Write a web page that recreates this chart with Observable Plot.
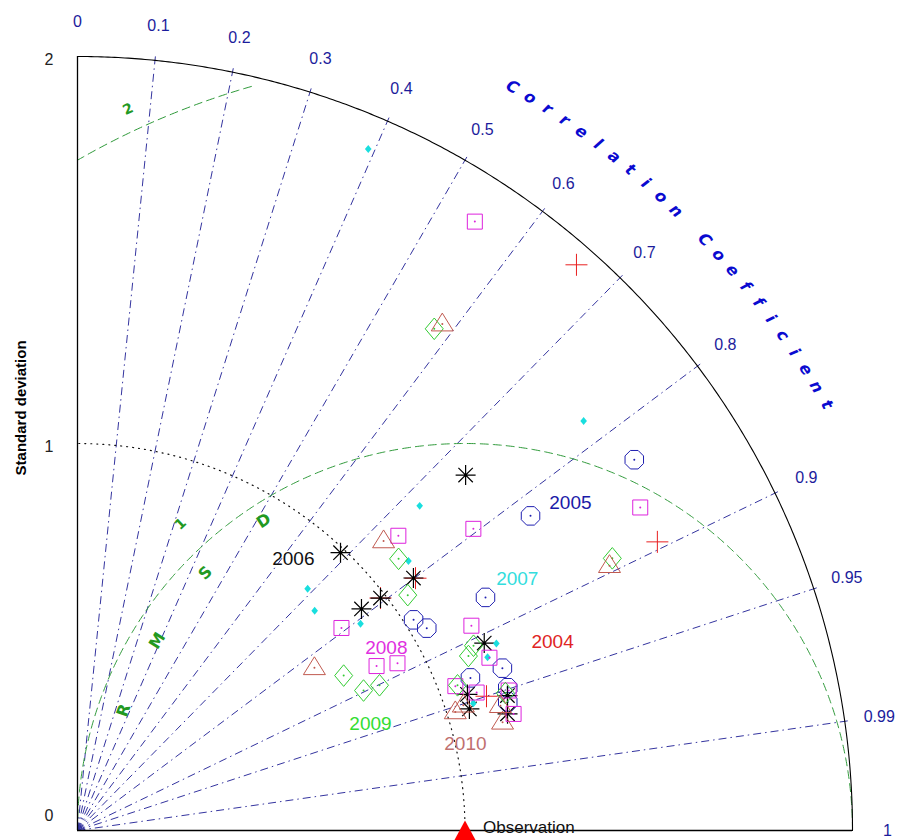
<!DOCTYPE html>
<html>
<head>
<meta charset="utf-8">
<script src="https://cdn.jsdelivr.net/npm/d3@7"></script>
<script src="https://cdn.jsdelivr.net/npm/@observablehq/plot@0.6"></script>
<style>
  html, body { margin: 0; padding: 0; background: #fff; }
  svg { display: block; }
</style>
</head>
<body>
<script>
// ---------- data (standard deviation, correlation) ----------
const years = ["2004", "2005", "2006", "2007", "2008", "2009", "2010"];

const s2004 = [1.948, 1.672, 1.089, 0.986, 1.111];
const r2004 = [0.661, 0.895, 0.801, 0.793, 0.950];

const s2005 = [1.727, 1.424, 1.213, 1.024, 1.042, 1.174, 1.088, 1.170, 1.159];
const r2005 = [0.832, 0.821, 0.868, 0.847, 0.865, 0.934, 0.932, 0.949, 0.958];

const s2006 = [1.359, 0.988, 1.085, 0.986, 0.930, 1.156, 1.066, 1.059, 1.163, 1.150];
const r2006 = [0.737, 0.687, 0.799, 0.793, 0.788, 0.908, 0.944, 0.955, 0.954, 0.965];

const s2007 = [1.914, 1.681, 1.218, 1.102, 0.862, 0.835, 0.905, 1.184, 1.149, 1.073];
const r2007 = [0.392, 0.777, 0.725, 0.775, 0.689, 0.733, 0.807, 0.913, 0.921, 0.952];

const s2008 = [1.878, 1.675, 1.285, 1.125, 0.859, 0.881, 0.932, 1.146, 1.153, 1.044, 1.170, 1.165, 1.090];
const r2008 = [0.546, 0.867, 0.795, 0.736, 0.793, 0.876, 0.886, 0.887, 0.922, 0.934, 0.951, 0.966, 0.945];

const s2009 = [1.590, 1.549, 1.086, 1.047, 0.795, 0.822, 0.865, 1.105, 1.050, 1.160, 1.128];
const r2009 = [0.579, 0.891, 0.763, 0.814, 0.864, 0.898, 0.901, 0.913, 0.934, 0.952, 0.906];

const s2010 = [1.612, 1.534, 1.088, 0.742, 1.022, 1.047, 1.132, 1.138];
const r2010 = [0.584, 0.895, 0.726, 0.824, 0.954, 0.951, 0.969, 0.959];

// year annotation positions (x, y in standard-deviation units)
const labelX = [1.226, 1.272, 0.557, 1.135, 0.797, 0.756, 1.001];
const labelY = [0.488, 0.846, 0.702, 0.650, 0.472, 0.276, 0.2245];

// observation reference
const obsStd = 1.0;

// axis ticks
const corrTicks = [0, 0.1, 0.2, 0.3, 0.4, 0.5, 0.6, 0.7, 0.8, 0.9, 0.95, 0.99, 1];
const corrLines = [0.1, 0.2, 0.3, 0.4, 0.5, 0.6, 0.7, 0.8, 0.9, 0.95, 0.99];
const stdTicks = [0, 1, 2];
const rmsdArcs = [1, 2];
const rmsdTitle = ["R", "M", "S", "D"];
const corrTitle = "Correlation Coefficient";

// ---------- styles ----------
const colors = {
  "2004": "#e82020", "2005": "#1f1fb0", "2006": "#000000", "2007": "#19dede",
  "2008": "#dd22dd", "2009": "#33cc33", "2010": "#c05a50"
};
const labelColors = {
  "2004": "#e02424", "2005": "#1a1aa8", "2006": "#111111", "2007": "#33dddd",
  "2008": "#e030e0", "2009": "#33dd33", "2010": "#c07070"
};

function sym(f) { return { draw(ctx, size) { f(ctx, Math.sqrt(size / Math.PI)); } }; }
const symPlus = sym((c, r) => { c.moveTo(-r, 0); c.lineTo(r, 0); c.moveTo(0, -r); c.lineTo(0, r); });
const symOct = sym((c, r) => {
  for (let k = 0; k < 8; ++k) {
    const a = (k + 0.5) * Math.PI / 4;
    if (k === 0) c.moveTo(r * Math.cos(a), r * Math.sin(a)); else c.lineTo(r * Math.cos(a), r * Math.sin(a));
  }
  c.closePath();
});
const symAst = sym((c, r) => {
  const d = r * 0.72;
  c.moveTo(-r, 0); c.lineTo(r, 0); c.moveTo(0, -r); c.lineTo(0, r);
  c.moveTo(-d, -d); c.lineTo(d, d); c.moveTo(-d, d); c.lineTo(d, -d);
});
const symDiam = sym((c, r) => { c.moveTo(0, -1.2 * r); c.lineTo(r, 0); c.lineTo(0, 1.2 * r); c.lineTo(-r, 0); c.closePath(); });
const symSq = sym((c, r) => { c.rect(-r, -r, 2 * r, 2 * r); });
const symTri = sym((c, r) => { c.moveTo(0, -r); c.lineTo(r, 0.62 * r); c.lineTo(-r, 0.62 * r); c.closePath(); });
const symObs = sym((c, r) => { c.moveTo(0, -0.9 * r); c.lineTo(r, 0.95 * r); c.lineTo(-r, 0.95 * r); c.closePath(); });

const seriesStd = {"2004": s2004, "2005": s2005, "2006": s2006, "2007": s2007, "2008": s2008, "2009": s2009, "2010": s2010};
const seriesR = {"2004": r2004, "2005": r2005, "2006": r2006, "2007": r2007, "2008": r2008, "2009": r2009, "2010": r2010};

const points = years.flatMap(yr => seriesStd[yr].map((s, i) => {
  const r = seriesR[yr][i];
  return {year: yr, std: s, corr: r, x: s * r, y: s * Math.sqrt(1 - r * r)};
}));
const ofYear = yr => points.filter(d => d.year === yr);

// ---------- geometry helpers ----------
const deg = Math.PI / 180;
const arc = (cx, rad, a0, a1) => d3.range(a0, a1 + 0.001, 0.25).map(a => ({x: cx + rad * Math.cos(a * deg), y: rad * Math.sin(a * deg), rr: rad}));
const outerArc = arc(0, 2, 0, 90);
const obsArc = arc(0, obsStd, 0, 90);
// RMSD arcs centred on the observation, kept inside the quarter disc of radius 2
const rmsdSpan = {1: [0, 180], 2: [106, 120]};
const rmsdLines = rmsdArcs.flatMap(rr => arc(obsStd, rr, rmsdSpan[rr][0], rmsdSpan[rr][1]).filter(p => p.x >= -0.001));

const corrLabels = corrTicks.map(r => {
  const a = Math.acos(r);
  return {x: 2.09 * Math.cos(a), y: 2.09 * Math.sin(a), t: String(r)};
});

// curved title letters
const a0 = 59.7, a1 = 29.65;
const titleLetters = corrTitle.split("").map((ch, i, arr) => {
  const a = a0 + (a1 - a0) * i / (arr.length - 1);
  return {x: 2.225 * Math.cos(a * deg), y: 2.225 * Math.sin(a * deg), ch, rot: 90 - a};
});

// RMSD letters along the arc centred on observation
const rmsdAngles = [160.6, 148.3, 135.2, 123.0];
const rmsdRad = [0.934, 0.933, 0.944, 0.954];
const rmsdLetters = rmsdTitle.map((ch, i) => ({
  x: obsStd + rmsdRad[i] * Math.cos(rmsdAngles[i] * deg),
  y: rmsdRad[i] * Math.sin(rmsdAngles[i] * deg),
  ch, rot: 90 - rmsdAngles[i]
}));
const rmsdNumAngles = [132.8, 115.0];
const rmsdNumRad = [1.08, 2.057];
const rmsdNums = rmsdArcs.map((v, i) => ({
  x: obsStd + rmsdNumRad[i] * Math.cos(rmsdNumAngles[i] * deg),
  y: rmsdNumRad[i] * Math.sin(rmsdNumAngles[i] * deg),
  t: String(v), rot: 90 - rmsdNumAngles[i]
}));

const yearLabels = years.map((yr, i) => ({x: labelX[i], y: labelY[i], t: yr}));

const navy = "#34349f";
const font = "Liberation Sans, Arial, sans-serif";

const markerStyles = {
  "2004": {symbol: symPlus, r: 11},
  "2005": {symbol: symOct, r: 10},
  "2006": {symbol: symAst, r: 10},
  "2008": {symbol: symSq, r: 7.5},
  "2009": {symbol: symDiam, r: 9},
  "2010": {symbol: symTri, r: 11}
};

const marks = [
  // correlation rays
  Plot.link(corrLines, {x1: () => 0, y1: () => 0, x2: r => 2.015 * r, y2: r => 2.015 * Math.sqrt(1 - r * r),
    stroke: navy, strokeWidth: 1, strokeDasharray: "8,4,1.5,4"}),
  // RMSD arcs
  Plot.line(rmsdLines, {x: "x", y: "y", z: "rr", stroke: "#2f9a3a", strokeWidth: 1, strokeDasharray: "8,5"}),
  // std = observation arc
  Plot.line(obsArc, {x: "x", y: "y", stroke: "#111", strokeWidth: 1.2, strokeDasharray: "1,5"}),
  // outer arc
  Plot.line(outerArc, {x: "x", y: "y", stroke: "#000", strokeWidth: 1.1}),
  // axes
  Plot.ruleX([0], {y1: 0, y2: 2, stroke: "#000", strokeWidth: 1.3}),
  Plot.ruleY([0], {x1: 0, x2: 2, stroke: "#000", strokeWidth: 1.3}),
  // y tick labels
  Plot.text(stdTicks.filter(v => v > 0), {x: () => -0.062, y: d => d, text: d => String(d), textAnchor: "end", dy: 3,
    fill: "#222", fontSize: 16, fontFamily: font}),
  Plot.text(stdTicks.filter(v => v === 0), {x: () => -0.062, y: d => d, text: d => String(d), textAnchor: "end", dy: -15,
    fill: "#222", fontSize: 16, fontFamily: font}),
  // correlation tick labels
  Plot.text(corrLabels, {x: "x", y: "y", text: "t", fill: "#1c1c9c", fontSize: 16, fontFamily: font}),
  // curved title
  Plot.text(titleLetters, {x: "x", y: "y", text: "ch", rotate: "rot", fill: "#0a0ad0", fontSize: 16,
    fontWeight: "bold", fontStyle: "italic", fontFamily: "DejaVu Sans, sans-serif"}),
  // RMSD letters
  Plot.text(rmsdLetters, {x: "x", y: "y", text: "ch", rotate: "rot", fill: "#229922", fontSize: 16,
    fontWeight: "bold", fontFamily: "DejaVu Sans, sans-serif"}),
  Plot.text(rmsdNums, {x: "x", y: "y", text: "t", rotate: "rot", fill: "#229922", fontSize: 14,
    fontWeight: "bold", fontFamily: "DejaVu Sans, sans-serif"}),
  // y axis title
  Plot.text(["Standard deviation"], {x: () => -0.145, y: () => 1.092, text: d => d, rotate: -90,
    fill: "#000", fontSize: 15, fontWeight: "bold", fontFamily: font}),
];

// series markers
for (const yr of years) {
  if (yr === "2007") {
    marks.push(Plot.dot(ofYear(yr), {x: "x", y: "y", symbol: symDiam, r: 3.3, fill: colors[yr], stroke: "none"}));
  } else {
    const st = markerStyles[yr];
    marks.push(Plot.dot(ofYear(yr), {x: "x", y: "y", symbol: st.symbol, r: st.r, fill: "none",
      stroke: colors[yr], strokeWidth: yr === "2006" ? 1.2 : 1}));
    if (yr !== "2004" && yr !== "2006") {
      marks.push(Plot.dot(ofYear(yr), {x: "x", y: "y", r: 1, fill: colors[yr], stroke: "none"}));
    }
  }
}

// year labels
marks.push(Plot.text(yearLabels, {x: "x", y: "y", text: "t", fill: d => labelColors[d.t], fontSize: 19, fontFamily: font}));

// observation
marks.push(Plot.dot([obsStd], {x: d => d, y: () => 0, symbol: symObs, r: 11, fill: "#ff0000", stroke: "none"}));
marks.push(Plot.text(["Observation"], {x: () => obsStd, y: () => 0, text: d => d, textAnchor: "start", dx: 18, dy: -3,
  fill: "#111", fontSize: 17, fontFamily: font}));

const chart = Plot.plot({
  width: 901,
  height: 840,
  x: {type: "linear", domain: [0, 2], range: [77, 852], axis: null},
  y: {type: "linear", domain: [0, 2], range: [830, 56], axis: null},
  style: {background: "#fff", fontFamily: font, overflow: "visible"},
  marks
});
document.body.appendChild(chart);
</script>
</body>
</html>
